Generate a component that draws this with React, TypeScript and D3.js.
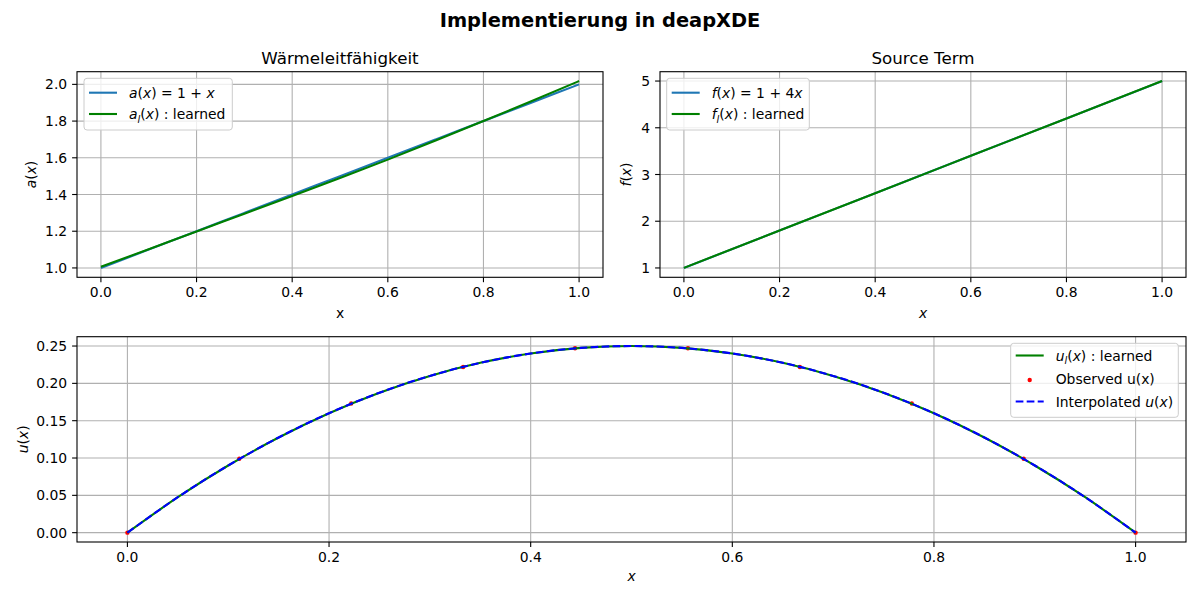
import * as d3 from 'd3'

const W = 1200
const H = 600
const FONT = '"DejaVu Sans", "Liberation Sans", sans-serif'

// ---- data ----
const TICKS_X = [0, 0.2, 0.4, 0.6, 0.8, 1.0]
const TICKS_A = [1.0, 1.2, 1.4, 1.6, 1.8, 2.0]
const TICKS_F = [1, 2, 3, 4, 5]
const TICKS_U = [0, 0.05, 0.1, 0.15, 0.2, 0.25]

const A_X = [0, 0.1, 0.2, 0.3, 0.4, 0.5, 0.6, 0.7, 0.8, 0.9, 1.0]
const A_TRUE = [1.0, 1.1, 1.2, 1.3, 1.4, 1.5, 1.6, 1.7, 1.8, 1.9, 2.0]
const A_LEARNED = [1.006, 1.102, 1.199, 1.295, 1.392, 1.49, 1.59, 1.694, 1.8, 1.908, 2.018]

const F_X = [0, 0.2, 0.4, 0.6, 0.8, 1.0]
const F_TRUE = [1.0, 1.8, 2.6, 3.4, 4.2, 5.0]
const F_LEARNED = [1.002, 1.801, 2.6, 3.4, 4.2, 5.001]

const U_X = [0, 0.05, 0.1, 0.15, 0.2, 0.25, 0.3, 0.35, 0.4, 0.45, 0.5, 0.55, 0.6, 0.65, 0.7, 0.75, 0.8, 0.85, 0.9, 0.95, 1.0]
const U_LEARNED = [0, 0.0475, 0.09, 0.1275, 0.16, 0.1875, 0.21, 0.2275, 0.24, 0.2475, 0.25, 0.2475, 0.24, 0.2275, 0.21, 0.1875, 0.16, 0.1275, 0.09, 0.0475, 0]
const U_INTERP = [0, 0.0475, 0.09, 0.1275, 0.16, 0.1875, 0.21, 0.2275, 0.24, 0.2475, 0.25, 0.2475, 0.24, 0.2275, 0.21, 0.1875, 0.16, 0.1275, 0.09, 0.0475, 0]
const OBS_X = [0, 0.111, 0.222, 0.333, 0.444, 0.556, 0.667, 0.778, 0.889, 1.0]
const OBS_U = [0, 0.099, 0.173, 0.222, 0.247, 0.247, 0.222, 0.173, 0.099, 0]

const C_BLUE = '#1f77b4'
const C_GREEN = '#008000'
const C_RED = '#ff0000'
const C_DASH = '#0000ff'

type Seg = { t: string; i?: boolean; sub?: boolean }
type Series = { kind: 'line' | 'dot'; xs: number[]; ys: number[]; color: string; dash?: string }
type LegendItem = { kind: 'line' | 'dot'; color: string; dash?: string; label: Seg[] }
type Box = { l: number; r: number; t: number; b: number }

// mathtext-ish label: italic variables, subscripts
function Rich({ segs }: { segs: Seg[] }) {
  let shift = 0
  return (
    <>
      {segs.map((s, k) => {
        const target = s.sub ? 3.5 : 0
        const dy = target - shift
        shift = target
        return (
          <tspan key={k} dy={dy} fontStyle={s.i ? 'italic' : 'normal'} fontSize={s.sub ? '0.7em' : undefined}>
            {s.t}
          </tspan>
        )
      })}
    </>
  )
}

function Panel(props: {
  box: Box
  xDomain: [number, number]
  yDomain: [number, number]
  yTicks: number[]
  yFmt: (v: number) => string
  series: Series[]
  title?: string
  xlabel: Seg[]
  xlabelY: number
  ylabel: Seg[]
  ylabelX: number
  legend: { x: number; y: number; w: number; h: number; rows: number[]; items: LegendItem[] }
}) {
  const { box, series, legend } = props
  const x = d3.scaleLinear().domain(props.xDomain).range([box.l, box.r])
  const y = d3.scaleLinear().domain(props.yDomain).range([box.b, box.t])
  const path = (s: Series) =>
    d3.line<number>()
      .x((_, i) => x(s.xs[i]))
      .y(v => y(v))
      .curve(d3.curveNatural)(s.ys) ?? ''
  const clipId = `clip-${Math.round(box.l)}-${Math.round(box.t)}`
  return (
    <g>
      <clipPath id={clipId}>
        <rect x={box.l} y={box.t} width={box.r - box.l} height={box.b - box.t} />
      </clipPath>
      {/* grid */}
      {TICKS_X.map(t => (
        <line key={'gx' + t} x1={x(t)} x2={x(t)} y1={box.t} y2={box.b} stroke="#b0b0b0" strokeWidth={1.1} />
      ))}
      {props.yTicks.map(t => (
        <line key={'gy' + t} x1={box.l} x2={box.r} y1={y(t)} y2={y(t)} stroke="#b0b0b0" strokeWidth={1.1} />
      ))}
      {/* data */}
      <g clipPath={`url(#${clipId})`}>
        {series.filter(s => s.kind === 'dot').map((s, k) =>
          s.ys.map((v, i) => <circle key={`d${k}-${i}`} cx={x(s.xs[i])} cy={y(v)} r={2.2} fill={s.color} />)
        )}
        {series.filter(s => s.kind === 'line').map((s, k) => (
          <path key={'l' + k} d={path(s)} fill="none" stroke={s.color} strokeWidth={2.1} strokeDasharray={s.dash} />
        ))}
      </g>
      {/* spines */}
      <rect x={box.l} y={box.t} width={box.r - box.l} height={box.b - box.t} fill="none" stroke="#000" strokeWidth={1.1} />
      {/* ticks */}
      {TICKS_X.map(t => (
        <g key={'tx' + t}>
          <line x1={x(t)} x2={x(t)} y1={box.b} y2={box.b + 4.9} stroke="#000" strokeWidth={1.1} />
          <text x={x(t)} y={box.b + 20} textAnchor="middle" fontSize={13.9}>{d3.format('.1f')(t)}</text>
        </g>
      ))}
      {props.yTicks.map(t => (
        <g key={'ty' + t}>
          <line x1={box.l - 4.9} x2={box.l} y1={y(t)} y2={y(t)} stroke="#000" strokeWidth={1.1} />
          <text x={box.l - 9.8} y={y(t) + 5} textAnchor="end" fontSize={13.9}>{props.yFmt(t)}</text>
        </g>
      ))}
      {/* labels */}
      <text x={(box.l + box.r) / 2} y={props.xlabelY} textAnchor="middle" fontSize={13.9}>
        <Rich segs={props.xlabel} />
      </text>
      <text transform={`translate(${props.ylabelX},${(box.t + box.b) / 2}) rotate(-90)`} textAnchor="middle" fontSize={13.9}>
        <Rich segs={props.ylabel} />
      </text>
      {props.title && (
        <text x={(box.l + box.r) / 2} y={box.t - 8} textAnchor="middle" fontSize={16.7}>{props.title}</text>
      )}
      {/* legend */}
      <rect x={legend.x} y={legend.y} width={legend.w} height={legend.h} rx={3} fill="#fff" fillOpacity={0.8} stroke="#cccccc" strokeWidth={1} />
      {legend.items.map((it, k) => {
        const cy = legend.rows[k]
        const hx = legend.x + 5
        return (
          <g key={'lg' + k}>
            {it.kind === 'line' ? (
              <line x1={hx} x2={hx + 28} y1={cy} y2={cy} stroke={it.color} strokeWidth={2.1} strokeDasharray={it.dash} />
            ) : (
              <circle cx={hx + 14} cy={cy + 1} r={2.2} fill={it.color} />
            )}
            <text x={hx + 40} y={cy + 5} fontSize={13.9}>
              <Rich segs={it.label} />
            </text>
          </g>
        )
      })}
    </g>
  )
}

const DASH = '7.7 3.3'

export default function App() {
  const tl: Box = { l: 77, r: 603, t: 71.7, b: 277.3 }
  const tr: Box = { l: 660, r: 1186, t: 71.7, b: 277.3 }
  const bt: Box = { l: 77, r: 1186, t: 336.7, b: 542 }
  return (
    <div style={{ position: 'absolute', left: 0, top: 0, width: W, height: H, background: '#fff' }}>
      <svg width={W} height={H} viewBox={`0 0 ${W} ${H}`} style={{ display: 'block', fontFamily: FONT }} fill="#000">
        <rect width={W} height={H} fill="#fff" />
        <text x={W / 2} y={27} textAnchor="middle" fontSize={19.4} fontWeight="bold">Implementierung in deapXDE</text>

        <Panel
          box={tl}
          xDomain={[-0.05, 1.05]}
          yDomain={[0.949, 2.069]}
          yTicks={TICKS_A}
          yFmt={d3.format('.1f')}
          title="Wärmeleitfähigkeit"
          xlabel={[{ t: 'x' }]}
          xlabelY={318}
          ylabel={[{ t: 'a', i: true }, { t: '(' }, { t: 'x', i: true }, { t: ')' }]}
          ylabelX={36}
          series={[
            { kind: 'line', xs: A_X, ys: A_TRUE, color: C_BLUE },
            { kind: 'line', xs: A_X, ys: A_LEARNED, color: C_GREEN },
          ]}
          legend={{
            x: 84, y: 78.3, w: 148.3, h: 51.7, rows: [92.7, 114],
            items: [
              { kind: 'line', color: C_BLUE, label: [{ t: 'a', i: true }, { t: '(' }, { t: 'x', i: true }, { t: ') = 1 + ' }, { t: 'x', i: true }] },
              { kind: 'line', color: C_GREEN, label: [{ t: 'a', i: true }, { t: 'l', i: true, sub: true }, { t: '(' }, { t: 'x', i: true }, { t: ') : learned' }] },
            ],
          }}
        />

        <Panel
          box={tr}
          xDomain={[-0.05, 1.05]}
          yDomain={[0.8, 5.2]}
          yTicks={TICKS_F}
          yFmt={d3.format('d')}
          title="Source Term"
          xlabel={[{ t: 'x', i: true }]}
          xlabelY={318}
          ylabel={[{ t: 'f', i: true }, { t: '(' }, { t: 'x', i: true }, { t: ')' }]}
          ylabelX={631}
          series={[
            { kind: 'line', xs: F_X, ys: F_TRUE, color: C_BLUE },
            { kind: 'line', xs: F_X, ys: F_LEARNED, color: C_GREEN },
          ]}
          legend={{
            x: 666.7, y: 78.3, w: 142.6, h: 51.7, rows: [92.7, 114],
            items: [
              { kind: 'line', color: C_BLUE, label: [{ t: 'f', i: true }, { t: '(' }, { t: 'x', i: true }, { t: ') = 1 + 4' }, { t: 'x', i: true }] },
              { kind: 'line', color: C_GREEN, label: [{ t: 'f', i: true }, { t: 'l', i: true, sub: true }, { t: '(' }, { t: 'x', i: true }, { t: ') : learned' }] },
            ],
          }}
        />

        <Panel
          box={bt}
          xDomain={[-0.05, 1.05]}
          yDomain={[-0.0125, 0.2625]}
          yTicks={TICKS_U}
          yFmt={d3.format('.2f')}
          xlabel={[{ t: 'x', i: true }]}
          xlabelY={581}
          ylabel={[{ t: 'u', i: true }, { t: '(' }, { t: 'x', i: true }, { t: ')' }]}
          ylabelX={28}
          series={[
            { kind: 'line', xs: U_X, ys: U_LEARNED, color: C_GREEN },
            { kind: 'dot', xs: OBS_X, ys: OBS_U, color: C_RED },
            { kind: 'line', xs: U_X, ys: U_INTERP, color: C_DASH, dash: DASH },
          ]}
          legend={{
            x: 1010.7, y: 343.3, w: 167.6, h: 74, rows: [355.5, 379, 401.5],
            items: [
              { kind: 'line', color: C_GREEN, label: [{ t: 'u', i: true }, { t: 'l', i: true, sub: true }, { t: '(' }, { t: 'x', i: true }, { t: ') : learned' }] },
              { kind: 'dot', color: C_RED, label: [{ t: 'Observed u(x)' }] },
              { kind: 'line', color: C_DASH, dash: DASH, label: [{ t: 'Interpolated ' }, { t: 'u', i: true }, { t: '(' }, { t: 'x', i: true }, { t: ')' }] },
            ],
          }}
        />
      </svg>
    </div>
  )
}
